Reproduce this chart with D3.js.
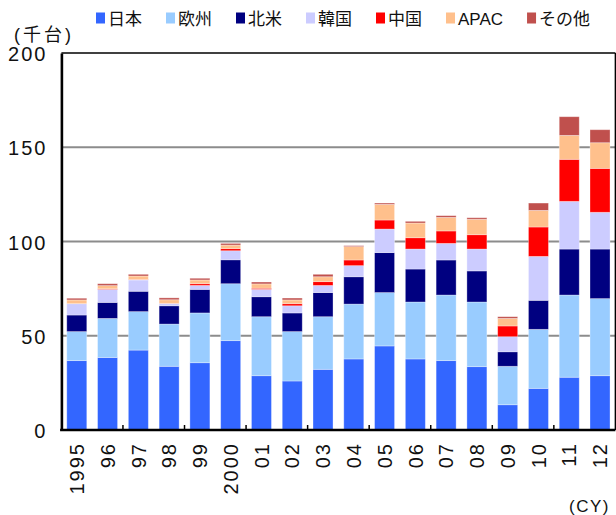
<!DOCTYPE html>
<html>
<head>
<meta charset="utf-8">
<script src="https://cdn.jsdelivr.net/npm/d3@7"></script>
<style>
  html, body { margin: 0; padding: 0; background: #fff; }
  svg { display: block; }
  text { font-family: "Liberation Sans", Arial, "Noto Sans CJK JP", sans-serif; fill: #111; }
</style>
</head>
<body>
<svg id="chart" width="616" height="515"></svg>
<script>
// Shipments by region, thousand units, calendar years 1995–2012
const years = ["1995","96","97","98","99","2000","01","02","03","04","05","06","07","08","09","10","11","12"];
const seriesNames = ["日本","欧州","北米","韓国","中国","APAC","その他"];
const seriesColors = ["#3366FF","#99CCFF","#000080","#CCCCFF","#FF0000","#FFC08C","#C0504D"];

const japan  = [36.8, 38.5, 42.4, 33.8, 35.7, 47.4, 28.8, 26.0, 32.2, 37.7, 44.6, 37.7, 36.8, 33.6, 13.4, 22.1, 28.0, 28.8];
const europe = [15.4, 20.7, 20.4, 22.4, 26.4, 30.2, 31.3, 26.2, 27.9, 29.1, 28.3, 30.2, 34.8, 34.3, 20.4, 31.3, 43.6, 40.9];
const northAmerica = [8.8, 8.5, 10.8, 9.7, 12.5, 12.7, 10.6, 9.9, 12.8, 14.5, 21.2, 17.5, 18.6, 16.5, 7.7, 15.4, 24.4, 26.3];
const korea  = [6.0, 6.9, 6.0, 1.2, 2.1, 4.8, 3.9, 3.8, 3.8, 5.9, 12.5, 10.6, 8.8, 11.6, 8.0, 23.3, 25.3, 19.5];
const china  = [0.0, 0.3, 0.2, 0.1, 0.9, 1.1, 0.6, 1.1, 2.0, 3.0, 4.8, 6.0, 6.6, 7.6, 5.7, 15.6, 22.3, 23.3];
const apac   = [2.0, 1.7, 1.9, 1.9, 2.0, 1.9, 2.3, 2.0, 2.6, 7.1, 8.3, 7.8, 7.2, 8.2, 4.0, 8.8, 12.7, 13.6];
const other  = [0.9, 1.0, 0.9, 1.0, 0.9, 0.9, 1.0, 1.0, 1.3, 0.5, 0.7, 0.9, 0.9, 0.8, 0.9, 3.9, 9.9, 6.9];
const yTicks = [0, 50, 100, 150, 200];
const yUnit = "(千台)";
const xUnit = "(CY)";

const seriesValues = [japan, europe, northAmerica, korea, china, apac, other];
const rows = years.map((y, i) => {
  const r = { year: y };
  seriesNames.forEach((s, k) => { r[s] = seriesValues[k][i]; });
  return r;
});

const svg = d3.select("#chart");
const plot = { left: 61.4, right: 615.4, top: 53, bottom: 430 };

const x = d3.scaleBand()
  .domain(years)
  .range([plot.left, plot.right])
  .paddingInner(0.35)
  .paddingOuter(0.175);

const y = d3.scaleLinear()
  .domain([0, 200])
  .range([plot.bottom, plot.top]);

const color = d3.scaleOrdinal().domain(seriesNames).range(seriesColors);

// horizontal gridlines
svg.append("g")
  .selectAll("line")
  .data(yTicks.filter(t => t > 0 && t < 200))
  .join("line")
  .attr("x1", plot.left).attr("x2", plot.right)
  .attr("y1", d => y(d)).attr("y2", d => y(d))
  .attr("stroke", "#8c8c8c")
  .attr("stroke-width", 2);

// stacked bars
const stacked = d3.stack().keys(seriesNames)(rows);
svg.append("g")
  .selectAll("g")
  .data(stacked)
  .join("g")
  .attr("fill", d => color(d.key))
  .selectAll("rect")
  .data(d => d)
  .join("rect")
  .attr("x", d => x(d.data.year))
  .attr("width", x.bandwidth())
  .attr("y", d => y(d[1]))
  .attr("height", d => Math.max(0, y(d[0]) - y(d[1])))
  .attr("stroke", "rgba(255,255,255,0.4)")
  .attr("stroke-width", 0.8);

// frame: thin top and right, heavy left and bottom axes
svg.append("line")
  .attr("x1", plot.left).attr("x2", plot.right)
  .attr("y1", plot.top).attr("y2", plot.top)
  .attr("stroke", "#000").attr("stroke-width", 1.5);
svg.append("line")
  .attr("x1", plot.right).attr("x2", plot.right)
  .attr("y1", plot.top).attr("y2", plot.bottom)
  .attr("stroke", "#000").attr("stroke-width", 1.5);

// y axis
const yAxis = svg.append("g")
  .attr("transform", `translate(${plot.left},0)`)
  .call(d3.axisLeft(y).tickValues(yTicks).tickSize(0).tickPadding(14));
yAxis.select(".domain").attr("stroke", "#000").attr("stroke-width", 2.6);
yAxis.selectAll("text")
  .attr("font-size", 20)
  .attr("letter-spacing", 2)
  .attr("fill", "#111")
  .attr("font-family", "'Liberation Sans', Arial, sans-serif")
  .attr("dy", "0.38em");

// x axis with rotated year labels
const xAxis = svg.append("g")
  .attr("transform", `translate(0,${plot.bottom})`)
  .call(d3.axisBottom(x).tickSize(0).tickSizeOuter(0));
xAxis.select(".domain").attr("stroke", "#000").attr("stroke-width", 2.6)
  .attr("d", `M${plot.left - 1.3},0H${plot.right}`);
xAxis.selectAll(".tick text")
  .attr("font-size", 20)
  .attr("letter-spacing", 2)
  .attr("fill", "#111")
  .attr("font-family", "'Liberation Sans', Arial, sans-serif")
  .attr("text-anchor", "end")
  .attr("transform", "translate(0,12) rotate(-90)")
  .attr("x", 0)
  .attr("y", 0)
  .attr("dy", "0.36em");

// inward tick marks at every second category boundary
const gap = x.step() - x.bandwidth();
svg.append("g")
  .selectAll("line")
  .data(years.filter((d, i) => i > 0 && i % 2 === 0))
  .join("line")
  .attr("x1", d => x(d) - gap / 2).attr("x2", d => x(d) - gap / 2)
  .attr("y1", plot.bottom).attr("y2", plot.bottom - 5)
  .attr("stroke", "#000").attr("stroke-width", 1.5);

// unit labels
svg.append("text")
  .attr("x", 14).attr("y", 41)
  .attr("font-size", 18)
  .attr("letter-spacing", 3)
  .text(yUnit);
svg.append("text")
  .attr("x", 569).attr("y", 512)
  .attr("font-size", 17)
  .attr("letter-spacing", 1.5)
  .text(xUnit);

// legend
const legend = svg.append("g");
let lx = 96;
seriesNames.forEach(name => {
  const item = legend.append("g");
  item.append("rect")
    .attr("x", lx).attr("y", 12.5)
    .attr("width", 9).attr("height", 11)
    .attr("fill", color(name));
  const t = item.append("text")
    .attr("x", lx + 12).attr("y", 25)
    .attr("font-size", 17)
    .text(name);
  lx += 12 + t.node().getComputedTextLength() + 24;
});
</script>
</body>
</html>
